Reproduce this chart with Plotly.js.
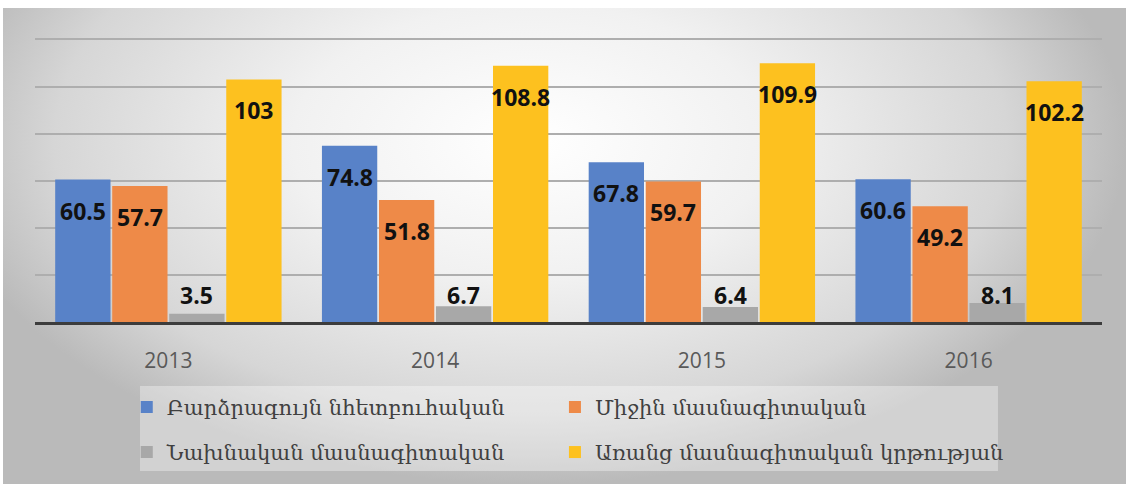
<!DOCTYPE html>
<html>
<head>
<meta charset="utf-8">
<script src="https://cdn.plot.ly/plotly-3.0.1.min.js"></script>
<style>
  html, body { margin: 0; padding: 0; background: #ffffff; width: 1126px; height: 484px; overflow: hidden; }
  #bg { position: absolute; left: 3px; top: 8px; width: 1123px; height: 476px;
        background: radial-gradient(ellipse farthest-side at 47% 28%, #ffffff 0%, #f1f1f1 40%, #d6d6d6 80%, #bababa 100%); }
  #chart { position: absolute; left: 0; top: 0; width: 1126px; height: 484px; }
</style>
</head>
<body>
<div id="bg"></div>
<div id="chart"></div>
<script>
const years = ['2013', '2014', '2015', '2016'];
const seriesNames = [
  'Բարձրագույն նհետբուհական',
  'Միջին մասնագիտական',
  'Նախնական մասնագիտական',
  'Առանց մասնագիտական կրթության'
];
const higherEdu = [60.5, 74.8, 67.8, 60.6];
const middleProf = [57.7, 51.8, 59.7, 49.2];
const initialProf = [3.5, 6.7, 6.4, 8.1];
const noProf = [103, 108.8, 109.9, 102.2];
const colors = ['#5882c8', '#ee8a48', '#a8a8a8', '#fdc11f'];

const allValues = [higherEdu, middleProf, initialProf, noProf];
const legendIds = ['legend', 'legend2', 'legend3', 'legend4'];

const bargap = 0.145, bargroupgap = 0.03;
const slot = (1 - bargap) / allValues.length;

const traces = allValues.map((vals, j) => ({
  type: 'bar',
  name: seriesNames[j],
  x: years,
  y: vals,
  marker: { color: colors[j] },
  legend: legendIds[j],
  hoverinfo: 'x+y+name'
}));

const labelFont = { family: 'Open Sans, Lato, sans-serif', size: 23, color: '#111111', weight: 'bold' };
const annotations = [];
allValues.forEach((vals, j) => {
  vals.forEach((v, i) => {
    const isSmall = (j === 2);
    annotations.push({
      x: i + (j - 1.5) * slot,
      y: isSmall ? 0 : v,
      xref: 'x', yref: 'y',
      text: '<b>' + v + '</b>',
      showarrow: false,
      yanchor: 'middle',
      yshift: isSmall ? 27 : -31,
      font: labelFont
    });
  });
});

const legendFont = { family: 'DejaVu Serif, serif', size: 21, color: '#404040' };
function legendAt(x, y) {
  return {
    orientation: 'h', x: x, xanchor: 'left', y: y, yanchor: 'middle',
    bgcolor: 'rgba(0,0,0,0)', font: legendFont
  };
}

const layout = {
  width: 1126, height: 484,
  margin: { l: 35, r: 24, t: 37.6, b: 161 },
  paper_bgcolor: 'rgba(0,0,0,0)',
  plot_bgcolor: 'rgba(0,0,0,0)',
  barmode: 'group',
  bargap: bargap,
  bargroupgap: bargroupgap,
  xaxis: {
    type: 'category',
    showgrid: false,
    showline: true, linecolor: '#3c3c3c', linewidth: 3,
    ticks: '',
    ticklabelstandoff: 18,
    tickfont: { family: 'Open Sans, sans-serif', size: 21, color: '#595959' },
    fixedrange: true
  },
  yaxis: {
    range: [0, 120.6],
    tickmode: 'linear', tick0: 0, dtick: 20,
    showticklabels: false,
    showgrid: true, gridcolor: '#aeaeae', gridwidth: 2,
    zeroline: false,
    fixedrange: true
  },
  showlegend: true,
  legend: legendAt(0.086, -0.296),
  legend2: legendAt(0.4873, -0.296),
  legend3: legendAt(0.086, -0.454),
  legend4: legendAt(0.4873, -0.454),
  shapes: [{
    type: 'rect', xref: 'paper', yref: 'paper', layer: 'below',
    x0: 0.0984, x1: 0.9025, y0: -0.2254, y1: -0.5246,
    fillcolor: 'rgba(255,255,255,0.35)', line: { width: 0 }
  }],
  annotations: annotations
};

Plotly.newPlot('chart', traces, layout, { displayModeBar: false, responsive: false });
</script>
</body>
</html>
